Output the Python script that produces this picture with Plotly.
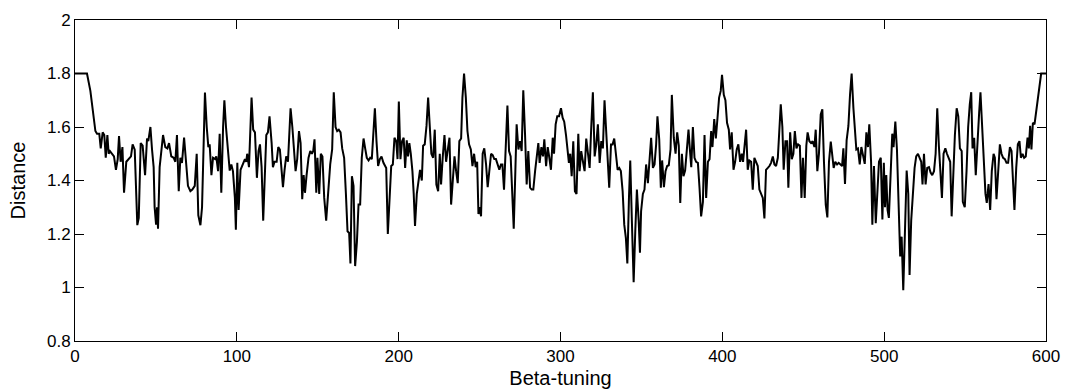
import plotly.graph_objects as go

beta = [0, 7.4, 9.5, 10.9, 12.6, 13.6, 15, 15.9, 17.1, 18.1, 19, 20, 20.8, 21.6, 22.9, 24.1, 25.3, 26.4, 27.2, 28.2, 29.3, 30.3, 31.7, 33.2, 34.6, 35.6, 36.9, 38.5, 39.4, 40.6, 41.8, 43.3, 44.5, 45.3, 46.6, 47.6, 48.6,
        49.2, 50.1, 50.7, 51.3, 52.3, 54.4, 55.8, 57.1, 58.1, 59.5, 61, 62, 63, 64.1, 65.1, 66.1, 67.4, 68.8, 69.8, 71.3, 72.5, 74, 75.2, 76.2, 77.5, 78.5, 79.5, 80.3, 81.4, 82.4, 83.2, 84.3, 85.3, 86.5, 87.3, 88.4, 89.4, 90.4, 91.5, 92.3, 93.3, 94.6, 95.6, 96.6, 97.6,
        98.8, 99.4, 100.3, 101.1, 102.3, 103.8, 105, 105.8, 106.4, 107.5, 108.3, 109.1, 110.1, 111.2, 112.4, 113.4, 114.3, 115.3, 116.3, 117.4, 118.2, 119.2, 120.2, 121.5, 122.3, 123.3, 124.6, 125.6, 126.6, 127.7, 128.5, 129.5, 130.5, 131.6, 132.4, 133.2, 134.3, 135.3, 136.3, 137.3, 138.4, 139.4, 140.4, 141.3, 142.1, 143.1, 144.3, 145.4, 146.4, 147.2, 148, 149.1, 149.8,
        150.9, 151.9, 152.9, 154, 155.2, 156.4, 157.7, 158.9, 159.9, 161, 162, 163, 164.1, 165.1, 166.3, 167.4, 168.4, 169.4, 170.2, 171.1, 172.1, 173.1, 174.2, 175.2, 176.2, 177.2, 178.3, 179.3, 180.3, 181.4, 182.4, 183.4, 184.5, 185.3, 186.3, 187.3, 188.4, 189.4, 190.6, 191.7, 192.3, 193.3, 194.3, 195.4, 196.4, 197.4, 198.5, 199.3, 200.1,
        201.1, 202.1, 203.1, 204, 205, 205.8, 206.6, 207.5, 208.5, 209.3, 210.1, 211.2, 212.2, 213.2, 214.3, 215.1, 216.1, 217.2, 218.2, 219.2, 220.2, 221.3, 222.3, 223.3, 224.4, 225.4, 226.2, 227.2, 228.3, 229.3, 230.3, 231.4, 232.4, 233.4, 234.5, 235.5, 236.5, 237.5, 238.6, 239.4, 240.4, 241.5, 242.5, 243.5, 244.6, 245.6, 246.6, 247.6, 248.5, 249.3, 250.1,
        250.9, 251.9, 252.9, 254, 255, 256, 257.1, 258.1, 259.1, 260.1, 261.2, 262.2, 263.2, 264.1, 265.1, 266.1, 267.2, 268.2, 269.2, 270.2, 271.1, 272.1, 272.9, 274, 275, 276, 277, 278.1, 279.1, 280.1, 281.2, 282.2, 283.2, 284.3, 285.3, 286.3, 287.1, 288.2, 289.2, 290, 291.1, 292.1, 293.1, 294.1, 295.2, 296, 297, 298, 299.1,
        300.3, 301.3, 302.3, 303.4, 304.4, 305.2, 306, 306.9, 307.9, 308.9, 309.9, 311, 311.8, 312.8, 313.9, 314.9, 315.9, 317, 318, 319, 320, 321.1, 322.1, 323.1, 324.2, 325.2, 326.2, 327.2, 328.3, 329.3, 330.1, 331.2, 332.2, 333.2, 334.3, 335.3, 336.3, 337.3, 338.4, 339.4, 340.4, 341.3, 342.3, 343.1, 344.1, 345.2, 346.2, 347.2, 348.3, 349.1,
        349.8, 350.9, 351.9, 352.9, 354, 355, 356, 357.1, 358.1, 359.1, 359.9, 361, 362, 362.8, 363.9, 364.9, 365.9, 366.9, 368, 368.8, 370, 371.1, 372.1, 373.1, 374, 375, 376, 377, 378.1, 379.1, 379.9, 380.8, 381.8, 382.8, 383.8, 384.9, 385.9, 386.9, 388, 389, 390, 391.1, 392.1, 393.1, 393.9, 395, 396, 397, 398, 399,
        399.8, 400.9, 401.9, 402.9, 404, 404.8, 405.8, 406.9, 407.9, 408.9, 409.9, 411, 412, 412.8, 413.9, 414.7, 415.7, 416.7, 417.8, 418.8, 419.8, 420.9, 421.9, 422.9, 424, 425, 426, 427, 428.1, 429.1, 430.1, 431.2, 432.2, 433.2, 434.3, 435.3, 436.1, 437.1, 437.9, 439, 440, 440.8, 441.9, 442.9, 443.9, 444.8, 445.8, 446.8, 447.9, 448.9, 449.8,
        450.9, 451.9, 452.7, 453.8, 454.8, 455.8, 456.9, 457.7, 458.7, 459.7, 460.8, 461.8, 462.8, 463.9, 464.9, 465.9, 467, 468, 468.8, 469.8, 470.9, 471.9, 472.9, 474, 474.8, 475.8, 476.8, 477.9, 478.9, 479.9, 481, 482, 482.8, 483.8, 484.9, 485.9, 486.9, 488, 489, 490, 490.8, 491.9, 492.7, 493.7, 494.8, 495.8, 496.8, 497.9, 498.9, 499.8,
        500.5, 501.3, 502.1, 502.9, 504, 505, 505.8, 506.9, 507.9, 508.9, 509.9, 510.8, 511.8, 512.8, 513.9, 514.9, 515.7, 516.7, 517.8, 518.8, 519.8, 520.9, 521.9, 522.9, 523.7, 524.6, 525.6, 526.6, 527.7, 528.7, 529.7, 530.8, 531.8, 532.8, 533.8, 534.9, 535.7, 536.7, 537.8, 538.8, 539.8, 540.8, 541.7, 542.7, 543.7, 544.8, 545.8, 546.8, 547.9,
        548.6, 549.8, 550.9, 551.9, 552.9, 553.8, 554.6, 555.6, 556.6, 557.7, 558.7, 559.5, 560.6, 561.6, 562.6, 563.4, 564.5, 565.5, 566.5, 567.6, 568.4, 569.4, 570.4, 571.5, 572.5, 573.5, 574.6, 575.6, 576.6, 577.7, 578.7, 579.7, 580.5, 581.6, 582.6, 583.6, 584.5, 585.5, 586.5, 587.5, 588.6, 589.4, 590.2, 591, 591.9, 592.9, 593.9, 595, 596, 597, 600]

distance = [1.8, 1.8, 1.735, 1.66, 1.585, 1.575, 1.575, 1.52, 1.58, 1.57, 1.485, 1.57, 1.5, 1.51, 1.5, 1.49, 1.44, 1.48, 1.566, 1.47, 1.525, 1.354, 1.47, 1.48, 1.49, 1.535, 1.515, 1.233, 1.26, 1.54, 1.53, 1.42, 1.557, 1.547, 1.6, 1.516, 1.45,
            1.3, 1.235, 1.3, 1.22, 1.45, 1.57, 1.525, 1.52, 1.54, 1.49, 1.485, 1.47, 1.57, 1.36, 1.485, 1.466, 1.56, 1.447, 1.38, 1.36, 1.366, 1.38, 1.5, 1.27, 1.233, 1.3, 1.535, 1.729, 1.6, 1.525, 1.535, 1.42, 1.485, 1.48, 1.49, 1.435, 1.575, 1.354, 1.6, 1.7, 1.6, 1.51, 1.437, 1.46, 1.435,
            1.335, 1.216, 1.466, 1.29, 1.44, 1.466, 1.48, 1.47, 1.5, 1.45, 1.6, 1.71, 1.59, 1.58, 1.41, 1.51, 1.535, 1.45, 1.25, 1.41, 1.57, 1.58, 1.64, 1.54, 1.45, 1.47, 1.47, 1.525, 1.516, 1.435, 1.375, 1.44, 1.49, 1.47, 1.55, 1.67, 1.6, 1.516, 1.435, 1.48, 1.585, 1.54, 1.33, 1.42, 1.354, 1.42, 1.485, 1.51, 1.5, 1.51, 1.554, 1.354, 1.485,
            1.35, 1.5, 1.49, 1.335, 1.25, 1.373, 1.46, 1.516, 1.73, 1.6, 1.585, 1.59, 1.58, 1.52, 1.485, 1.35, 1.21, 1.204, 1.09, 1.416, 1.38, 1.08, 1.17, 1.31, 1.31, 1.485, 1.557, 1.52, 1.485, 1.475, 1.485, 1.48, 1.6, 1.67, 1.547, 1.454, 1.48, 1.49, 1.466, 1.45, 1.447, 1.2, 1.35, 1.454, 1.46, 1.56, 1.547, 1.48, 1.695,
            1.48, 1.547, 1.56, 1.447, 1.55, 1.49, 1.54, 1.5, 1.435, 1.35, 1.23, 1.35, 1.404, 1.44, 1.4, 1.53, 1.535, 1.604, 1.71, 1.6, 1.5, 1.485, 1.59, 1.385, 1.36, 1.5, 1.385, 1.485, 1.57, 1.47, 1.516, 1.56, 1.31, 1.41, 1.49, 1.435, 1.39, 1.547, 1.557, 1.71, 1.8, 1.71, 1.585, 1.535, 1.516, 1.454, 1.5, 1.45, 1.47, 1.275, 1.3,
            1.266, 1.5, 1.52, 1.46, 1.375, 1.44, 1.5, 1.495, 1.48, 1.48, 1.46, 1.44, 1.46, 1.46, 1.366, 1.554, 1.68, 1.51, 1.49, 1.35, 1.22, 1.435, 1.61, 1.516, 1.547, 1.51, 1.737, 1.57, 1.385, 1.51, 1.373, 1.366, 1.366, 1.435, 1.5, 1.54, 1.466, 1.525, 1.49, 1.554, 1.454, 1.525, 1.485, 1.44, 1.56, 1.5, 1.61, 1.64, 1.64,
            1.67, 1.635, 1.62, 1.57, 1.516, 1.466, 1.5, 1.416, 1.547, 1.36, 1.35, 1.575, 1.435, 1.51, 1.47, 1.435, 1.557, 1.5, 1.447, 1.6, 1.73, 1.49, 1.535, 1.61, 1.466, 1.547, 1.52, 1.7, 1.57, 1.47, 1.373, 1.535, 1.535, 1.557, 1.5, 1.44, 1.447, 1.435, 1.36, 1.235, 1.185, 1.09, 1.335, 1.475, 1.25, 1.02, 1.21, 1.366, 1.25, 1.13,
            1.285, 1.35, 1.366, 1.46, 1.39, 1.5, 1.56, 1.447, 1.46, 1.535, 1.64, 1.554, 1.373, 1.475, 1.375, 1.435, 1.454, 1.457, 1.516, 1.72, 1.56, 1.5, 1.58, 1.53, 1.316, 1.5, 1.416, 1.437, 1.52, 1.59, 1.52, 1.45, 1.6, 1.485, 1.47, 1.466, 1.373, 1.266, 1.32, 1.57, 1.335, 1.47, 1.48, 1.585, 1.525, 1.63, 1.557, 1.635, 1.71, 1.735,
            1.795, 1.72, 1.7, 1.616, 1.59, 1.516, 1.58, 1.44, 1.47, 1.516, 1.535, 1.47, 1.5, 1.47, 1.54, 1.59, 1.44, 1.475, 1.47, 1.366, 1.485, 1.47, 1.454, 1.366, 1.35, 1.335, 1.258, 1.44, 1.447, 1.454, 1.466, 1.49, 1.46, 1.454, 1.485, 1.6, 1.685, 1.6, 1.44, 1.547, 1.547, 1.373, 1.58, 1.48, 1.5, 1.585, 1.52, 1.535, 1.53, 1.335, 1.485,
            1.335, 1.53, 1.58, 1.547, 1.54, 1.547, 1.525, 1.59, 1.435, 1.5, 1.647, 1.666, 1.47, 1.31, 1.262, 1.47, 1.545, 1.485, 1.447, 1.47, 1.46, 1.466, 1.46, 1.454, 1.52, 1.387, 1.55, 1.604, 1.72, 1.8, 1.67, 1.6, 1.516, 1.52, 1.46, 1.525, 1.5, 1.462, 1.58, 1.525, 1.61, 1.47, 1.235, 1.454, 1.24, 1.36, 1.47, 1.485, 1.254, 1.466,
            1.3, 1.42, 1.29, 1.26, 1.447, 1.575, 1.525, 1.62, 1.516, 1.35, 1.116, 1.19, 0.99, 1.2, 1.437, 1.35, 1.047, 1.25, 1.35, 1.447, 1.49, 1.5, 1.485, 1.47, 1.385, 1.5, 1.385, 1.447, 1.45, 1.43, 1.42, 1.435, 1.5, 1.67, 1.53, 1.4, 1.335, 1.5, 1.52, 1.5, 1.485, 1.47, 1.266, 1.42, 1.57, 1.67, 1.64, 1.52, 1.51,
            1.32, 1.3, 1.435, 1.6, 1.685, 1.73, 1.52, 1.56, 1.42, 1.56, 1.654, 1.73, 1.585, 1.46, 1.35, 1.316, 1.387, 1.29, 1.435, 1.5, 1.485, 1.33, 1.447, 1.535, 1.5, 1.485, 1.48, 1.466, 1.466, 1.525, 1.51, 1.41, 1.29, 1.447, 1.535, 1.547, 1.485, 1.5, 1.485, 1.49, 1.56, 1.52, 1.604, 1.516, 1.616, 1.61, 1.654, 1.71, 1.76, 1.8, 1.8]

x_ticks = [0, 100, 200, 300, 400, 500, 600]
y_ticks = [0.8, 1.0, 1.2, 1.4, 1.6, 1.8, 2.0]
y_tick_labels = ["0.8", "1", "1.2", "1.4", "1.6", "1.8", "2"]

fig = go.Figure()
fig.add_trace(go.Scatter(x=beta, y=distance, mode="lines",
                         line=dict(color="black", width=2), showlegend=False))

font = dict(family="Liberation Sans, Arial, Helvetica, sans-serif", size=17, color="black")
fig.update_layout(
    width=1068, height=389,
    margin=dict(l=75, r=22, t=20, b=48),
    paper_bgcolor="white", plot_bgcolor="white",
    font=font,
    xaxis=dict(range=[0, 600], tickvals=x_ticks, ticks="inside", ticklen=9,
               tickcolor="black", showline=True, linecolor="black", linewidth=1,
               mirror="ticks", showgrid=False, zeroline=False,
               title=dict(text="Beta-tuning", standoff=9), automargin=False),
    yaxis=dict(range=[0.8, 2.0], tickvals=y_ticks, ticktext=y_tick_labels,
               ticks="inside", ticklen=9, tickcolor="black", showline=True,
               linecolor="black", linewidth=1, mirror="ticks", showgrid=False,
               zeroline=False, title=dict(text="Distance", standoff=15), automargin=False),
)

fig.write_html("out.html", config={"displayModeBar": False},
               post_script="document.body.style.margin='0';document.body.style.overflow='hidden';")
